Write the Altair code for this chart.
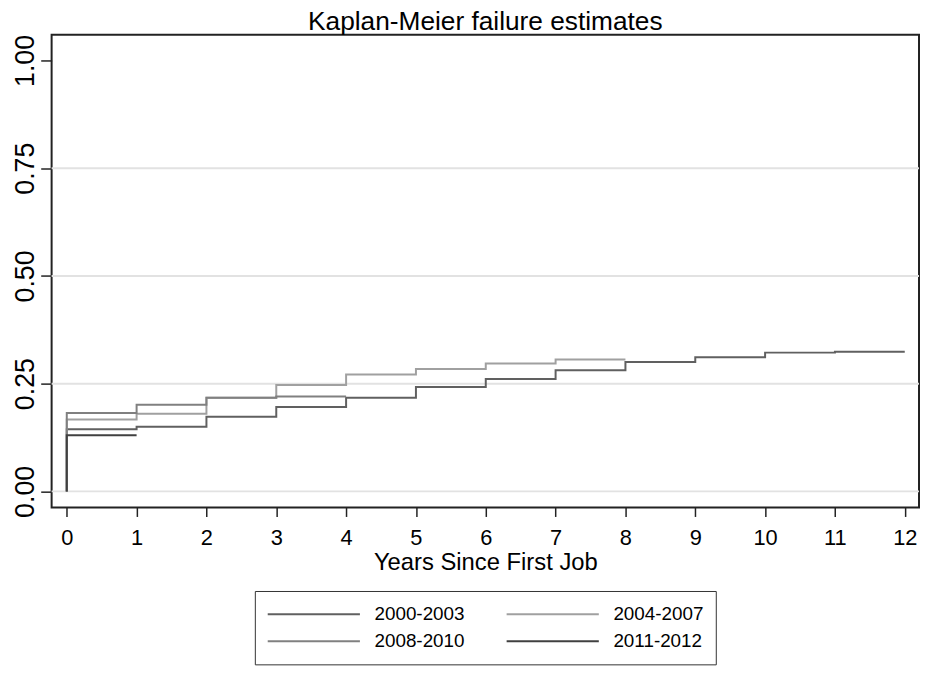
import altair as alt
import pandas as pd

# ---- data ----
cohorts = ["2000-2003", "2004-2007", "2008-2010", "2011-2012"]
colors = ["#606060", "#a0a0a0", "#808080", "#404040"]
fail_2000_2003 = [0.144, 0.150, 0.173, 0.196, 0.217, 0.242, 0.261, 0.281, 0.300, 0.311, 0.322, 0.324]
fail_2004_2007 = [0.167, 0.180, 0.217, 0.247, 0.271, 0.284, 0.297, 0.306]
fail_2008_2010 = [0.182, 0.201, 0.217, 0.220]
fail_2011_2012 = [0.130]
last_year = [12, 8, 4, 1]
x_ticks = list(range(13))
y_ticks = [0.0, 0.25, 0.5, 0.75, 1.0]
grid_vals = [0.0, 0.25, 0.5, 0.75]

series = [fail_2000_2003, fail_2004_2007, fail_2008_2010, fail_2011_2012]
rows = []
for name, vals, end in zip(cohorts, series, last_year):
    idx = 0
    rows.append({"cohort": name, "t": 0, "f": 0.0, "idx": idx})
    for i, v in enumerate(vals):
        idx += 1
        rows.append({"cohort": name, "t": i, "f": v, "idx": idx})
    idx += 1
    rows.append({"cohort": name, "t": end, "f": vals[-1], "idx": idx})
df = pd.DataFrame(rows)
grid_df = pd.DataFrame({"f": grid_vals})

# legend fills column by column: reorder so that it reads row by row
legend_order = [0, 2, 1, 3]
legend_domain = [cohorts[i] for i in legend_order]
legend_range = [colors[i] for i in legend_order]

FONT = "Liberation Sans"
xscale = alt.Scale(domain=[-0.217, 12.204], nice=False, zero=False)
yscale = alt.Scale(domain=[-0.0375, 1.0598], nice=False, zero=False)

yaxis = alt.Axis(values=y_ticks, format=".2f", title=None, grid=False,
                 domain=False, tickSize=11, tickColor="#222", tickWidth=1.5,
                 labelFontSize=27, labelFont=FONT, labelColor="#000",
                 labelAngle=270, labelAlign="center",
                 labelBaseline="alphabetic", labelPadding=7.7,
                 labelOverlap=False)

grid = alt.Chart(grid_df).mark_rule(color="#e2e2e2", strokeWidth=2).encode(
    y=alt.Y("f:Q", scale=yscale, axis=yaxis)
)

lines = alt.Chart(df).mark_line(interpolate="step-after", strokeWidth=2).encode(
    x=alt.X("t:Q", scale=xscale,
            axis=alt.Axis(values=x_ticks, format="d", title="Years Since First Job",
                          grid=False, domain=False, tickSize=9, tickColor="#222",
                          tickWidth=1.5, labelFontSize=22, labelFont=FONT,
                          labelColor="#000", labelBaseline="alphabetic",
                          labelPadding=28.7, labelFlush=False, labelOverlap=False,
                          titleFont=FONT, titleFontSize=24, titleFontWeight="normal",
                          titleColor="#000", titleBaseline="alphabetic", titleY=63)),
    y=alt.Y("f:Q", scale=yscale, axis=yaxis),
    color=alt.Color("cohort:N",
                    scale=alt.Scale(domain=legend_domain, range=legend_range),
                    legend=alt.Legend(title=None, orient="none", legendX=205,
                                      legendY=561.2, columns=2, symbolType="stroke",
                                      symbolSize=8649, symbolStrokeWidth=2,
                                      clipHeight=22.6, rowPadding=4.4,
                                      columnPadding=41, labelOffset=13.7,
                                      labelFontSize=19, labelFont=FONT,
                                      labelColor="#000", padding=12,
                                      strokeColor="#333", labelLimit=300)),
    order=alt.Order("idx:Q"),
)

chart = alt.layer(grid, lines).properties(
    width=875,
    height=477,
    autosize=alt.AutoSizeParams(type="none"),
    padding={"left": 44, "top": 24, "right": 1, "bottom": 164},
    background="white",
    title=alt.TitleParams("Kaplan-Meier failure estimates", fontSize=26.5, font=FONT,
                          fontWeight="normal", color="#000", anchor="middle",
                          offset=0, baseline="bottom", dy=28),
).configure_view(stroke="#222", strokeWidth=2)

chart.save("out.html", embed_options={"renderer": "svg", "actions": False})
